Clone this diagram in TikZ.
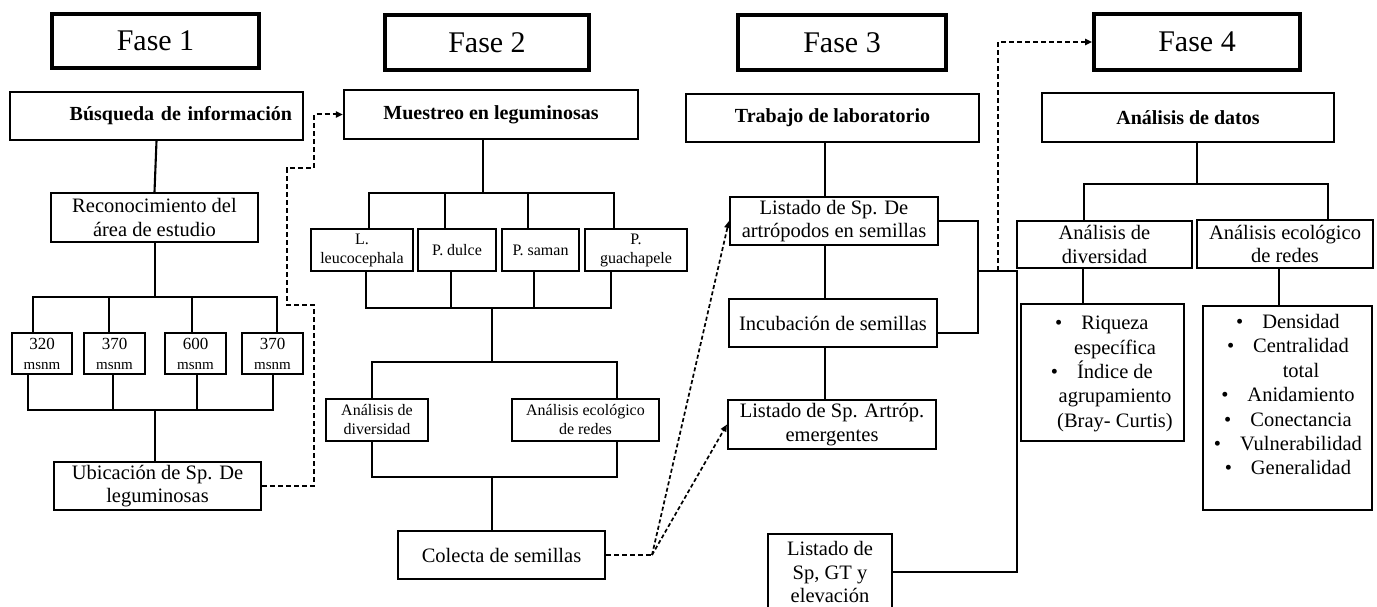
\documentclass[tikz,border=0pt]{standalone}
\usepackage{fontspec}
\setmainfont{Liberation Serif}
\usetikzlibrary{arrows.meta,calc}

\newcommand{\elevnum}[1]{{\fontsize{17}{20}\selectfont #1}}
\newcommand{\itembul}{\makebox[0pt][r]{\textbullet\hspace{19pt}}}

\tikzset{
  fasebox/.style={draw, line width=3.6pt, inner sep=0pt, font=\fontsize{30}{36}\selectfont},
  box/.style={draw, line width=2.1pt, align=center, inner sep=0pt, font=\fontsize{20.5}{23.5}\selectfont},
  hdbox/.style={box, font=\bfseries\fontsize{20}{24}\selectfont},
  smallbox/.style={box, font=\fontsize{16}{19}\selectfont},
  msbox/.style={box, font=\fontsize{15}{20}\selectfont},
  listtext/.style={align=center, inner sep=0pt, font=\fontsize{20.5}{24.4}\selectfont},
  link/.style={line width=2.1pt},
  dlink/.style={line width=2pt, dash pattern=on 5pt off 3pt},
  dlinkthin/.style={line width=1.7pt, dash pattern=on 4pt off 2.5pt},
  tip/.style={-{Triangle[length=7pt,width=6pt]}},
}

\begin{document}
\begin{tikzpicture}[x=1pt,y=-1pt]
\useasboundingbox (0,0) rectangle (1377,607);

% ---- phase titles
\node[fasebox, minimum width=207pt, minimum height=54pt] (f1) at (155.5,41) {Fase 1};
\node[fasebox, minimum width=204pt, minimum height=55pt] (f2) at (487,42.5) {Fase 2};
\node[fasebox, minimum width=208pt, minimum height=55pt] (f3) at (842,42.5) {Fase 3};
\node[fasebox, minimum width=206pt, minimum height=56pt] (f4) at (1197,42) {Fase 4};

% ---- Fase 1
\node[hdbox, minimum width=293pt, minimum height=48pt, text width=271pt, align=right, inner xsep=11pt] (bus) at (156.5,116) {Búsqueda de información};
\node[box, minimum width=207pt, minimum height=49pt] (rec) at (154.5,217.5) {Reconocimiento del\\área de estudio};
\node[msbox, minimum width=60pt, minimum height=41pt] (m1) at (42,353.5) {\elevnum{320}\\msnm};
\node[msbox, minimum width=61pt, minimum height=41pt] (m2) at (114.5,353.5) {\elevnum{370}\\msnm};
\node[msbox, minimum width=61pt, minimum height=41pt] (m3) at (195.5,353.5) {\elevnum{600}\\msnm};
\node[msbox, minimum width=61pt, minimum height=41pt] (m4) at (272.5,353.5) {\elevnum{370}\\msnm};
\node[box, minimum width=207pt, minimum height=48pt] (ubi) at (157.5,486) {Ubicación de Sp. De\\leguminosas};

\coordinate (a0) at (155,297);
\coordinate (a1) at (33,297);
\coordinate (a2) at (109,297);
\coordinate (a3) at (192,297);
\coordinate (a4) at (277,297);
\coordinate (c0) at (155,410);
\coordinate (c1) at (28,410);
\coordinate (c2) at (113,410);
\coordinate (c3) at (197,410);
\coordinate (c4) at (273,410);

\draw[link] (bus.south) -- (rec.north);
\draw[link] (rec.south -| a0) -- (a0);
\draw[link] (m1.north -| a1) -- (a1) -- (a4) -- (m4.north -| a4);
\draw[link] (a2) -- (m2.north -| a2);
\draw[link] (a3) -- (m3.north -| a3);
\draw[link] (m1.south -| c1) -- (c1) -- (c4) -- (m4.south -| c4);
\draw[link] (m2.south -| c2) -- (c2);
\draw[link] (m3.south -| c3) -- (c3);
\draw[link] (c0) -- (ubi.north -| c0);

% ---- Fase 2
\node[hdbox, minimum width=294pt, minimum height=49pt] (mue) at (491,114.5) {Muestreo en leguminosas};
\node[smallbox, minimum width=102pt, minimum height=42pt] (leu) at (362,250) {L.\\leucocephala};
\node[smallbox, minimum width=78pt, minimum height=42pt] (dul) at (457,250) {P. dulce};
\node[smallbox, minimum width=77pt, minimum height=42pt] (sam) at (540.5,250) {P. saman};
\node[smallbox, minimum width=102pt, minimum height=42pt] (gua) at (636,250) {P.\\guachapele};
\node[smallbox, minimum width=102pt, minimum height=42pt] (adv) at (377,420) {Análisis de\\diversidad};
\node[smallbox, minimum width=147pt, minimum height=42pt] (aer) at (585.5,420) {Análisis ecológico\\de redes};
\node[box, minimum width=207pt, minimum height=48pt] (col) at (501.5,555) {Colecta de semillas};

\coordinate (p0) at (483,193);
\coordinate (p1) at (369,193);
\coordinate (p2) at (445,193);
\coordinate (p3) at (528,193);
\coordinate (p4) at (614,193);
\coordinate (q0) at (492,308);
\coordinate (q1) at (366,308);
\coordinate (q2) at (451,308);
\coordinate (q3) at (534,308);
\coordinate (q4) at (611,308);
\coordinate (r0) at (492,362);
\coordinate (r1) at (372,362);
\coordinate (r2) at (617,362);
\coordinate (s0) at (492,477);
\coordinate (s1) at (372,477);
\coordinate (s2) at (617,477);

\draw[link] (mue.south -| p0) -- (p0);
\draw[link] (leu.north -| p1) -- (p1) -- (p4) -- (gua.north -| p4);
\draw[link] (p2) -- (dul.north -| p2);
\draw[link] (p3) -- (sam.north -| p3);
\draw[link] (leu.south -| q1) -- (q1) -- (q4) -- (gua.south -| q4);
\draw[link] (dul.south -| q2) -- (q2);
\draw[link] (sam.south -| q3) -- (q3);
\draw[link] (q0) -- (r0);
\draw[link] (adv.north -| r1) -- (r1) -- (r2) -- (aer.north -| r2);
\draw[link] (adv.south -| s1) -- (s1) -- (s2) -- (aer.south -| s2);
\draw[link] (s0) -- (col.north -| s0);

% ---- Fase 3
\node[hdbox, minimum width=293pt, minimum height=48pt] (trab) at (832.5,118) {Trabajo de laboratorio};
\node[box, minimum width=208pt, minimum height=48pt] (lart) at (834,221) {Listado de Sp. De\\artrópodos en semillas};
\node[box, minimum width=208pt, minimum height=48pt] (inc) at (833,323) {Incubación de semillas};
\node[box, minimum width=208pt, minimum height=49pt] (emer) at (832,424.5) {Listado de Sp. Artróp.\\emergentes};
\node[box, minimum width=124pt, minimum height=76pt] (gt) at (830,572) {Listado de\\Sp, GT y\\elevación};

\coordinate (x3) at (825,0);
\coordinate (incr) at ([yshift=-10pt]inc.east);
\coordinate (k1) at (978,271);
\coordinate (k2) at (1017,271);
\coordinate (k3) at (998,271);

\draw[link] (trab.south -| x3) -- (lart.north -| x3);
\draw[link] (lart.south -| x3) -- (inc.north -| x3);
\draw[link] (inc.south -| x3) -- (emer.north -| x3);
\draw[link] (lart.east) -| (incr -| k1) -- (incr);
\draw[link] (k1) -- (k2) |- (gt.east);

% ---- Fase 4
\node[hdbox, minimum width=292pt, minimum height=49pt] (dat) at (1188,117.5) {Análisis de datos};
\node[box, minimum width=175pt, minimum height=47pt] (dv4) at (1104.5,244.5) {Análisis de\\diversidad};
\node[box, minimum width=176pt, minimum height=48pt] (er4) at (1285,244) {Análisis ecológico\\de redes};
\node[box, minimum width=163pt, minimum height=137pt] (riq) at (1102.5,372.5) {};
\node[listtext, anchor=north] (riqt) at (1115,316)
  {\itembul Riqueza\\específica\\\itembul Índice de\\agrupamiento\\(Bray- Curtis)};
\node[box, minimum width=169pt, minimum height=204pt] (den) at (1287.5,408) {};
\node[listtext, anchor=north] (dent) at (1301,314)
  {\itembul Densidad\\\itembul Centralidad\\total\\\itembul Anidamiento\\\itembul Conectancia\\\itembul Vulnerabilidad\\\itembul Generalidad};

\coordinate (d0) at (1197,184);
\coordinate (d1) at (1084,184);
\coordinate (d2) at (1328,184);
\coordinate (dv) at (1083,0);
\coordinate (ev) at (1279,0);

\draw[link] (dat.south -| d0) -- (d0);
\draw[link] (dv4.north -| d1) -- (d1) -- (d2) -- (er4.north -| d2);
\draw[link] (dv4.south -| dv) -- (riq.north -| dv);
\draw[link] (er4.south -| ev) -- (den.north -| ev);

% ---- dashed flow between phases
\coordinate (u1) at (314,305);
\coordinate (u2) at (287,168);
\coordinate (u3) at (314,114.5);
\draw[dlink, tip] (ubi.east) -| (u1) -| (u2) -| (u3) -- (mue.west);

\coordinate (cj) at (652,555);
\draw[dlink] (col.east) -- (cj);
\draw[dlinkthin, tip] (cj) -- (lart.west);
\draw[dlinkthin, tip] (cj) -- (emer.west);

\draw[dlink, tip] (k3) |- (f4.west);
\end{tikzpicture}
\end{document}
